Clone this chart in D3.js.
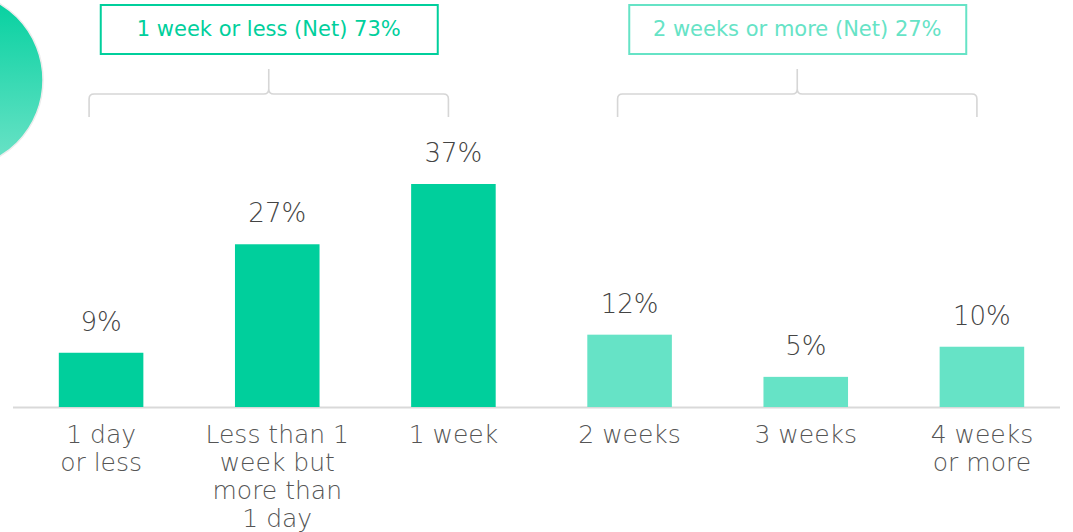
<!DOCTYPE html>
<html>
<head>
<meta charset="utf-8">
<script src="https://cdn.jsdelivr.net/npm/d3@7"></script>
<style>
  body { margin: 0; background: #fff; }
  svg { display: block; }
</style>
</head>
<body>
<svg id="chart" width="1073" height="532"></svg>
<script>
// data
let categories = ["1 day\nor less", "Less than 1\nweek but\nmore than\n1 day", "1 week", "2 weeks", "3 weeks", "4 weeks\nor more"];
let values = [9, 27, 37, 12, 5, 10];
let groups = ["net1", "net1", "net1", "net2", "net2", "net2"];
let netLabels = ["1 week or less (Net) 73%", "2 weeks or more (Net) 27%"];
let netRanges = [[0, 2], [3, 5]];

let fontFamily = "'DejaVu Sans', 'Liberation Sans', sans-serif";
let darkGreen = "#00cf9c";
let lightGreen = "#66e3c6";
let colour = d3.scaleOrdinal().domain(["net1", "net2"]).range([darkGreen, lightGreen]);

let svg = d3.select("#chart");
let baseline = 407;

let x = d3.scaleBand()
	.domain(d3.range(categories.length))
	.range([13, 1070])
	.paddingInner(0.52)
	.paddingOuter(0.26);

let y = d3.scaleLinear()
	.domain([0, 37])
	.range([baseline, 184]);

// decorative circle top left
let grad = svg.append("defs").append("linearGradient")
	.attr("id", "circ")
	.attr("x1", 0).attr("y1", 0).attr("x2", 0).attr("y2", 1);
grad.append("stop").attr("offset", "0%").attr("stop-color", "#00d09e");
grad.append("stop").attr("offset", "100%").attr("stop-color", "#6fe3c8");

svg.append("circle")
	.attr("cx", -46)
	.attr("cy", 80)
	.attr("r", 89)
	.attr("fill", "url(#circ)")
	.attr("stroke", "#ececec")
	.attr("stroke-width", 1.5);

// axis line
svg.append("line")
	.attr("x1", 13).attr("x2", 1060)
	.attr("y1", baseline + 0.5).attr("y2", baseline + 0.5)
	.attr("stroke", "#d9d9d9")
	.attr("stroke-width", 2);

// bars
svg.selectAll(".bar")
	.data(values).enter()
	.append("rect")
	.attr("class", "bar")
	.attr("x", (d, i) => x(i))
	.attr("width", x.bandwidth())
	.attr("y", d => y(d))
	.attr("height", d => baseline - y(d))
	.attr("fill", (d, i) => colour(groups[i]));

// value labels
svg.selectAll(".val")
	.data(values).enter()
	.append("text")
	.attr("class", "val")
	.attr("x", (d, i) => x(i) + x.bandwidth() / 2)
	.attr("y", d => y(d) - 22)
	.attr("text-anchor", "middle")
	.attr("font-family", fontFamily)
	.attr("font-weight", 200)
	.attr("font-size", 26)
	.attr("fill", "#444")
	.text(d => d + "%");

// category labels
let cats = svg.selectAll(".cat")
	.data(categories).enter()
	.append("text")
	.attr("class", "cat")
	.attr("text-anchor", "middle")
	.attr("font-family", fontFamily)
	.attr("font-weight", 200)
	.attr("font-size", 25)
	.attr("fill", "#555");

cats.selectAll("tspan")
	.data((d, i) => d.split("\n").map(s => ({ s: s, i: i })))
	.enter()
	.append("tspan")
	.attr("x", d => x(d.i) + x.bandwidth() / 2)
	.attr("y", (d, j) => 443 + j * 28)
	.text(d => d.s);

// braces and net boxes
function bracePath(x0, x1, yTop, yBot, yTip) {
	let xm = (x0 + x1) / 2;
	let r = 5;
	return "M" + x0 + "," + yBot +
		" L" + x0 + "," + (yTop + r) +
		" Q" + x0 + "," + yTop + " " + (x0 + r) + "," + yTop +
		" L" + (xm - r) + "," + yTop +
		" Q" + xm + "," + yTop + " " + xm + "," + (yTop - r) +
		" L" + xm + "," + yTip +
		" M" + xm + "," + (yTop - r) +
		" Q" + xm + "," + yTop + " " + (xm + r) + "," + yTop +
		" L" + (x1 - r) + "," + yTop +
		" Q" + x1 + "," + yTop + " " + x1 + "," + (yTop + r) +
		" L" + x1 + "," + yBot;
}

netRanges.forEach(function(r, k) {
	let x0 = x(r[0]) + x.bandwidth() / 2 - 12;
	let x1 = x(r[1]) + x.bandwidth() / 2 - 5;
	let xm = (x0 + x1) / 2;
	let c = k == 0 ? darkGreen : lightGreen;

	svg.append("path")
		.attr("d", bracePath(x0, x1, 94, 117, 69))
		.attr("fill", "none")
		.attr("stroke", "#d6d6d6")
		.attr("stroke-width", 1.6);

	svg.append("rect")
		.attr("x", xm - 168)
		.attr("y", 5)
		.attr("width", 337)
		.attr("height", 49)
		.attr("fill", "#fff")
		.attr("stroke", c)
		.attr("stroke-width", 2);

	svg.append("text")
		.attr("x", xm)
		.attr("y", 36)
		.attr("text-anchor", "middle")
		.attr("font-family", fontFamily)
		.attr("font-size", 21)
		.attr("fill", c)
		.text(netLabels[k]);
});
</script>
</body>
</html>
